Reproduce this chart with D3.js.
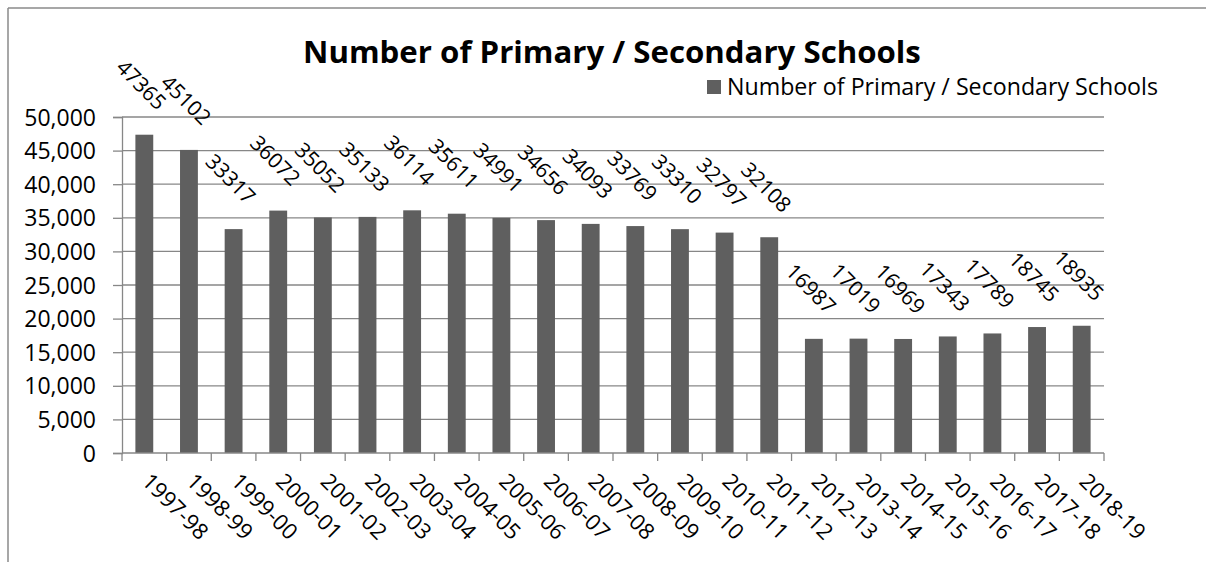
<!DOCTYPE html>
<html><head><meta charset="utf-8">
<script src="https://cdn.jsdelivr.net/npm/d3@7"></script>
<style>body{margin:0;background:#fff}svg{display:block}text{font-family:"Open Sans",sans-serif;fill:#000}</style>
</head><body>
<svg id="c" width="1206" height="562"></svg>
<script>
const categories = ["1997-98","1998-99","1999-00","2000-01","2001-02","2002-03","2003-04","2004-05","2005-06","2006-07","2007-08","2008-09","2009-10","2010-11","2011-12","2012-13","2013-14","2014-15","2015-16","2016-17","2017-18","2018-19"];
const values = [47365,45102,33317,36072,35052,35133,36114,35611,34991,34656,34093,33769,33310,32797,32108,16987,17019,16969,17343,17789,18745,18935];
const yTicks = [0,5000,10000,15000,20000,25000,30000,35000,40000,45000,50000];
const title = "Number of Primary / Secondary Schools";
const seriesName = "Number of Primary / Secondary Schools";

const svg = d3.select("#c");
const grid = "#878787", barColor = "#5f5f5f";
const L = 122, R = 1104, T = 117, B = 453;

function fit(sel, target){
  const fs = +sel.attr("font-size");
  const w = sel.node().getComputedTextLength();
  sel.attr("font-size", fs*target/w);
}

// chart frame
svg.append("line").attr("x1",8).attr("x2",1206).attr("y1",8).attr("y2",8).attr("stroke","#8a8a8a").attr("stroke-width",1.5);
svg.append("line").attr("x1",8).attr("x2",8).attr("y1",8).attr("y2",562).attr("stroke","#8a8a8a").attr("stroke-width",1.5);

const x = d3.scaleBand().domain(categories).range([L,R]).paddingInner(0.6).paddingOuter(0.3);
const y = d3.scaleLinear().domain([0,50000]).range([B,T]);

// gridlines
svg.append("g").selectAll("line").data(yTicks.filter(d=>d>0)).join("line")
  .attr("x1",L).attr("x2",R).attr("y1",d=>y(d)).attr("y2",d=>y(d)).attr("stroke",grid).attr("stroke-width",1.3);

// y axis
const ya = svg.append("g").attr("transform",`translate(${L},0)`)
  .call(d3.axisLeft(y).tickValues(yTicks).tickSize(9).tickPadding(17).tickFormat(d3.format(",")));
ya.select(".domain").attr("stroke",grid).attr("stroke-width",1.3);
ya.selectAll(".tick line").attr("stroke",grid).attr("stroke-width",1.3);
ya.selectAll("text").attr("font-size",23).attr("font-family","Open Sans").attr("fill","#000").attr("dy","0.35em");

// bars
svg.append("g").selectAll("rect").data(values).join("rect")
  .attr("x",(d,i)=>x(categories[i])).attr("width",x.bandwidth())
  .attr("y",d=>y(d)).attr("height",d=>B-y(d)).attr("fill",barColor);

// x axis line and ticks at band boundaries
svg.append("line").attr("x1",L).attr("x2",R).attr("y1",B).attr("y2",B).attr("stroke",grid).attr("stroke-width",1.3);
const bx = d3.scaleLinear().domain([0,categories.length]).range([L,R]);
svg.append("g").selectAll("line").data(d3.range(categories.length+1)).join("line")
  .attr("x1",d=>bx(d)).attr("x2",d=>bx(d)).attr("y1",B).attr("y2",B+8).attr("stroke",grid).attr("stroke-width",1.3);

// x labels
svg.append("g").selectAll("text").data(categories).join("text")
  .attr("transform",d=>`translate(${x(d)+x.bandwidth()/2+8},${471}) rotate(45)`)
  .attr("font-size",22).attr("dy","0.75em").text(d=>d);

// data labels
svg.append("g").selectAll("text").data(values).join("text")
  .attr("transform",(d,i)=>`translate(${x(categories[i])+x.bandwidth()/2-3},${y(d)-50}) rotate(45)`)
  .attr("text-anchor","middle").attr("dy","0.35em").attr("font-size",21).text(d=>d);

// title
const t = svg.append("text").attr("x",612).attr("y",63).attr("text-anchor","middle")
  .attr("font-weight","bold").attr("font-size",28).text(title);
fit(t, 618);

// legend
svg.append("rect").attr("x",707).attr("y",80).attr("width",14).attr("height",14).attr("fill",barColor);
const lt = svg.append("text").attr("x",727).attr("y",95).attr("font-size",20).text(seriesName);
fit(lt, 431);
</script>
</body></html>
